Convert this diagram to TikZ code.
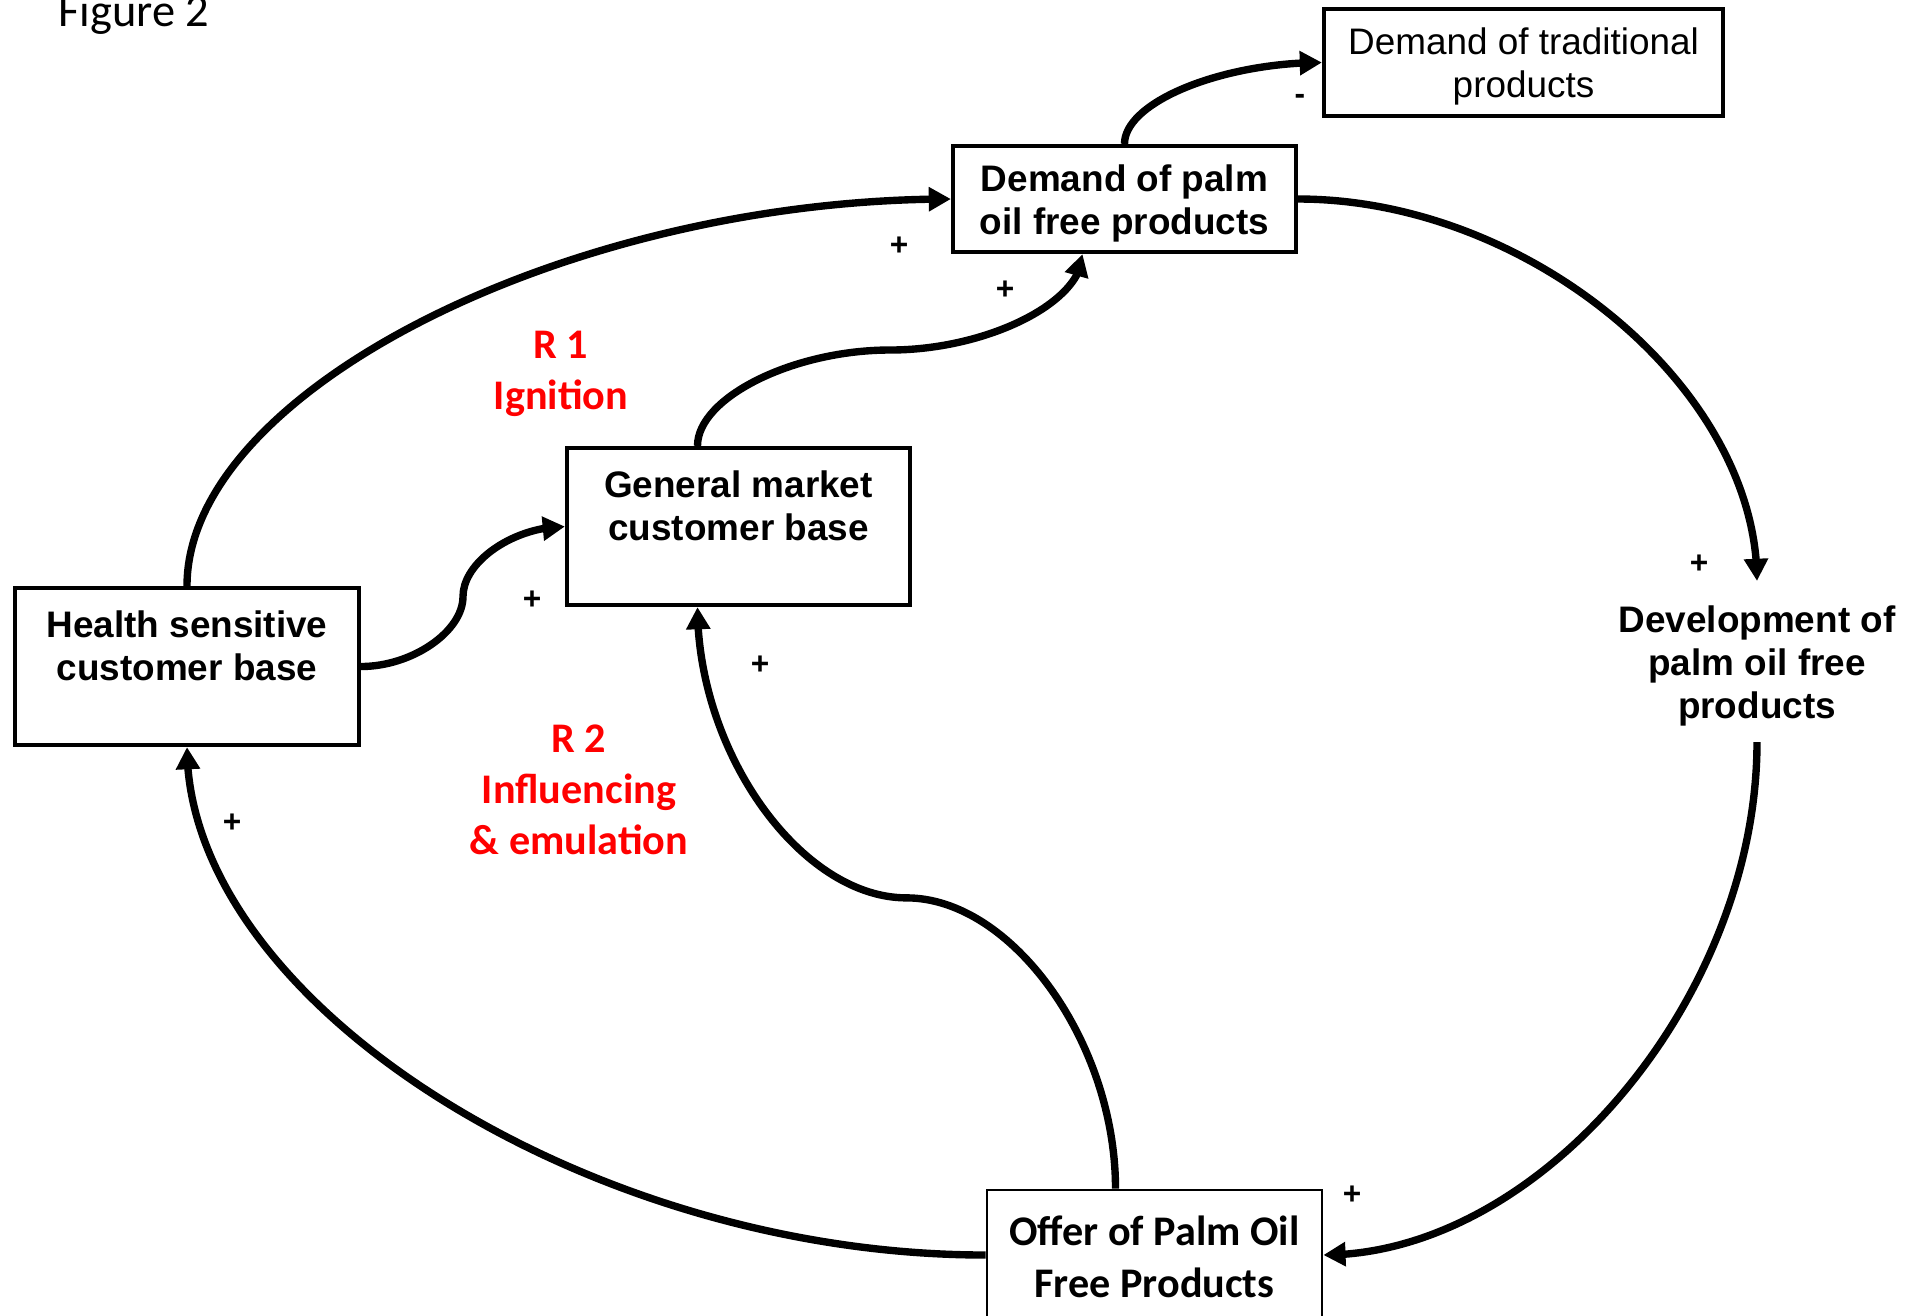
\documentclass[tikz,border=0pt]{standalone}
\usepackage{fontspec}
\setmainfont{Liberation Sans}
\newfontfamily\calibri{Carlito}
\usetikzlibrary{arrows.meta,bending,calc}
\newcommand\lstrut{\rule[-0.18\baselineskip]{0pt}{\baselineskip}}

\begin{document}
\begin{tikzpicture}[
    box/.style={draw, line width=1.2pt, align=center, inner sep=0pt,
        font=\bfseries\fontsize{10.5}{12.2}\selectfont},
    link/.style={line width=2.1pt, -{Triangle[length=6.3pt,width=6.6pt,flex]}},
    loopname/.style={text=red, align=center, font=\calibri\bfseries\fontsize{12}{14.5}\selectfont},
    sign/.style={font=\bfseries\fontsize{9}{11}\selectfont}
]
    \clip (0,0) rectangle (19.25,-13.15);

    \node[font=\calibri\fontsize{13.2}{16}\selectfont, anchor=base west, inner sep=0pt] (fig) at (0.58,-0.26) {Figure 2};

    % boxes
    \node[box, minimum width=3.44cm, minimum height=1.57cm] (hsc) at (1.87,-6.665) {Health sensitive\lstrut\\customer base\lstrut\\\lstrut};
    \node[box, minimum width=3.43cm, minimum height=1.57cm] (gmc) at (7.385,-5.265) {General market\lstrut\\customer base\lstrut\\\lstrut};
    \node[box, minimum width=3.43cm, minimum height=1.06cm] (dpo) at (11.245,-1.99) {Demand of palm\lstrut\\oil free products\lstrut};
    \node[box, font=\fontsize{10.5}{12.2}\selectfont, minimum width=3.99cm, minimum height=1.07cm] (dtp) at (15.235,-0.625) {Demand of traditional\lstrut\\products\lstrut};
    \node[box, draw=none, minimum height=1.57cm] (dev) at (17.57,-6.615) {Development of\lstrut\\palm oil free\lstrut\\products\lstrut};
    \node[box, line width=0.8pt, font=\calibri\bfseries\fontsize{12}{14.8}\selectfont, minimum width=3.35cm, minimum height=1.30cm] (offer) at (11.545,-12.55) {Offer of Palm Oil\lstrut\\Free Products\lstrut};

    \coordinate (gmc-top) at ([xshift=-4.1mm]gmc.north);
    \coordinate (gmc-bot) at ([xshift=-4.1mm]gmc.south);
    \coordinate (dpo-bot) at ([xshift=-4.2mm]dpo.south);
    \coordinate (offer-top) at ([xshift=-3.9mm]offer.north);

    % links
    \draw[link] (hsc.north) to[out=90, in=180, out distance=1.95cm, in distance=3.82cm] (dpo.west);
    \draw[link] (hsc.east) to[out=0, in=-90, out distance=0.51cm, in distance=0.35cm] ($(hsc.east)!.5!(gmc.west)$)
        to[out=90, in=180, out distance=0.35cm, in distance=0.51cm] (gmc.west);
    \draw[link] (gmc-top) to[out=90, in=180, out distance=0.485cm, in distance=0.965cm] ($(gmc-top)!.5!(dpo-bot)$)
        to[out=0, in=-90, out distance=0.965cm, in distance=0.485cm] (dpo-bot);
    \draw[link] (dpo.north) to[out=90, in=180, out distance=0.42cm, in distance=1cm] (dtp.west);
    \draw[link] (dpo.east) to[out=0, in=90, out distance=2.3cm, in distance=1.93cm] (dev.north);
    \draw[link] (dev.south) to[out=-90, in=0, out distance=2.56cm, in distance=2.17cm] (offer.east);
    \draw[link] (offer-top) to[out=90, in=0, out distance=1.465cm, in distance=1.05cm] ($(offer-top)!.5!(gmc-bot)$)
        to[out=180, in=-90, out distance=1.05cm, in distance=1.465cm] (gmc-bot);
    \draw[link] (offer.west) to[out=180, in=-90, out distance=4cm, in distance=2.54cm] (hsc.south);

    % signs
    \node[sign] (s1) at (8.99,-2.46) {+};
    \node[sign] (s2) at (10.05,-2.90) {+};
    \node[sign] (s3) at (5.32,-6.00) {+};
    \node[sign] (s4) at (7.60,-6.65) {+};
    \node[sign] (s5) at (16.99,-5.64) {+};
    \node[sign] (s6) at (2.32,-8.23) {+};
    \node[sign] (s7) at (13.52,-11.95) {+};
    \node[sign] (s8) at (13.00,-0.99) {-};

    % loops
    \node[loopname] (r1) at (5.61,-3.74) {R 1\strut\\Ignition\strut};
    \node[loopname] (r2) at (5.79,-7.93) {R 2\strut\\Influencing\strut\\\& emulation\strut};
\end{tikzpicture}
\end{document}
